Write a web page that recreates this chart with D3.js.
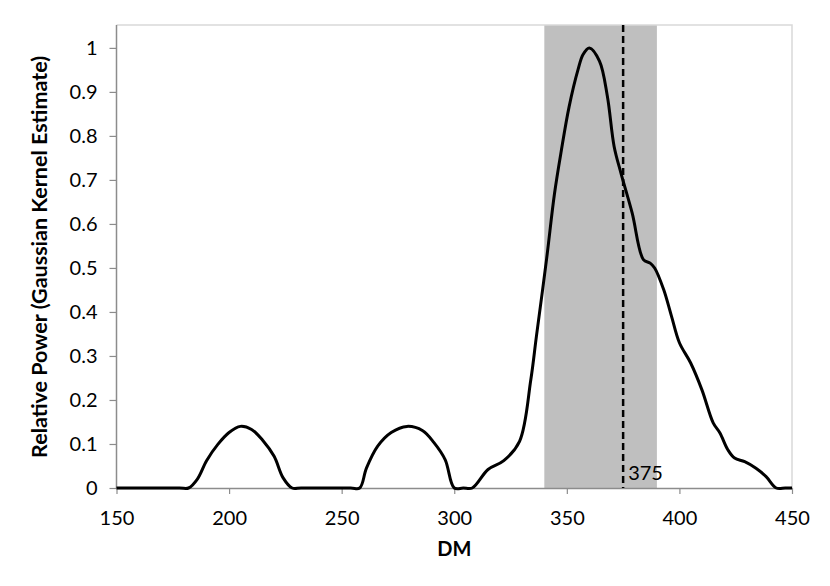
<!DOCTYPE html>
<html>
<head>
<meta charset="utf-8">
<script src="https://cdn.jsdelivr.net/npm/d3@7"></script>
<style>
  body { margin: 0; background: #fff; }
  svg { display: block; font-family: Lato, "Open Sans", sans-serif; }
</style>
</head>
<body>
<div id="chart"></div>
<script>
// kernel estimate
const dm = [150, 178, 182, 186, 190, 195, 200, 205, 210, 215, 220, 224, 228, 232,
  254, 258, 261, 266, 272, 279, 286, 291, 296, 300, 304, 308, 315, 322, 329,
  334, 336.5, 341, 344.5, 347.5, 351, 355, 357.2, 360, 364.5, 368, 371, 374,
  379, 384, 387, 389, 393, 396.5, 400, 405, 410, 415, 418, 421.5,
  424.5, 429, 434, 438.5, 443, 447, 450];
const power = [0, 0, 0, 0.021, 0.062, 0.099, 0.126, 0.14, 0.133, 0.108, 0.072, 0.023, 0, 0,
  0, 0, 0.045, 0.095, 0.126, 0.14, 0.13, 0.103, 0.064, 0, 0, 0, 0.042, 0.062, 0.106,
  0.246, 0.345, 0.52, 0.668, 0.765, 0.866, 0.951, 0.985, 1.0, 0.97, 0.89, 0.776, 0.716,
  0.625, 0.519, 0.511, 0.5, 0.451, 0.39, 0.33, 0.284, 0.223, 0.148, 0.125, 0.087,
  0.068, 0.06, 0.045, 0.026, 0, 0, 0];

const xTicks = [150, 200, 250, 300, 350, 400, 450];
const yTicks = [0, 0.1, 0.2, 0.3, 0.4, 0.5, 0.6, 0.7, 0.8, 0.9, 1];
const band = [340, 390];
const marker = 375;

const width = 830;
const height = 586;
const margin = { top: 25, right: 38, bottom: 98, left: 116.5 };

const svg = d3.select("#chart").append("svg")
  .attr("width", width)
  .attr("height", height);

const x = d3.scaleLinear().domain([150, 450]).range([margin.left, width - margin.right]);
const y = d3.scaleLinear().domain([0, 1.052]).range([height - margin.bottom, margin.top]);

// shaded interval
svg.append("rect")
  .attr("x", x(band[0]))
  .attr("y", margin.top)
  .attr("width", x(band[1]) - x(band[0]))
  .attr("height", y(0) - margin.top)
  .attr("fill", "#bfbfbf");

// plot area frame (top/right)
svg.append("path")
  .attr("d", `M${x(150)},${margin.top}H${x(450)}V${y(0)}`)
  .attr("fill", "none")
  .attr("stroke", "#d9d9d9")
  .attr("stroke-width", 1.5);

const xAxis = svg.append("g")
  .attr("transform", `translate(0,${y(0)})`)
  .call(d3.axisBottom(x).tickValues(xTicks).tickSize(6).tickSizeOuter(0).tickPadding(17));

const yAxis = svg.append("g")
  .attr("transform", `translate(${x(150)},0)`)
  .call(d3.axisLeft(y).tickValues(yTicks).tickSize(7).tickSizeOuter(0).tickPadding(12)
    .tickFormat(d => d3.format("")(d)));

[xAxis, yAxis].forEach(g => {
  g.select(".domain").attr("stroke", "#8c8c8c").attr("stroke-width", 1.5);
  g.selectAll(".tick line").attr("stroke", "#8c8c8c").attr("stroke-width", 1.2);
  g.selectAll(".tick text")
    .attr("fill", "#000")
    .style("font-family", "Lato, sans-serif")
    .style("font-size", "20px");
});
yAxis.select(".domain").attr("d", `M0,${margin.top}V${y(0)}`);

// marker line
svg.append("line")
  .attr("x1", x(marker)).attr("x2", x(marker))
  .attr("y1", margin.top).attr("y2", y(0))
  .attr("stroke", "#000")
  .attr("stroke-width", 2.5)
  .attr("stroke-dasharray", "7,4");

svg.append("text")
  .attr("x", x(marker) + 5)
  .attr("y", y(0) - 8)
  .style("font-size", "20px")
  .text(marker);

const line = d3.line()
  .x((d, i) => x(dm[i]))
  .y(d => y(d))
  .curve(d3.curveCatmullRom.alpha(0.5));

svg.append("path")
  .datum(power)
  .attr("d", line)
  .attr("fill", "none")
  .attr("stroke", "#000")
  .attr("stroke-width", 3)
  .attr("stroke-linejoin", "round");

svg.append("text")
  .attr("x", (x(150) + x(450)) / 2)
  .attr("y", 556)
  .attr("text-anchor", "middle")
  .style("font-size", "20px")
  .style("font-weight", "bold")
  .text("DM");

svg.append("text")
  .attr("transform", `translate(47,${(y(0) + y(1.05)) / 2}) rotate(-90)`)
  .attr("text-anchor", "middle")
  .style("font-size", "21.5px")
  .style("font-weight", "bold")
  .text("Relative Power (Gaussian Kernel Estimate)");
</script>
</body>
</html>
